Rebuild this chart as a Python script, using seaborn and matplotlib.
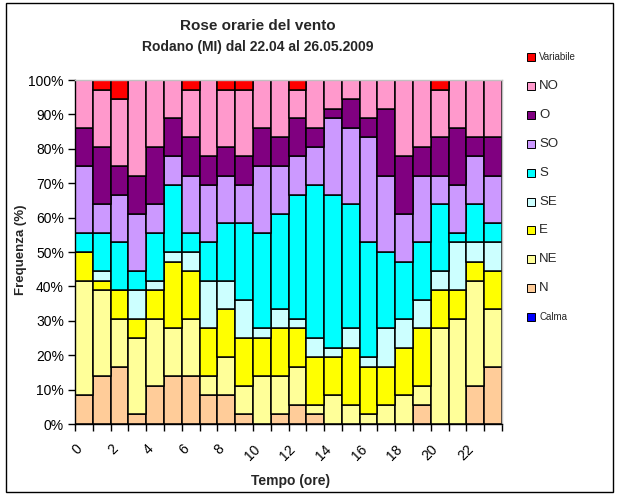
import matplotlib
matplotlib.use("Agg")
import matplotlib.pyplot as plt
from matplotlib.patches import Rectangle
from matplotlib.ticker import PercentFormatter
import pandas as pd
import seaborn as sns

# Osservazioni orarie per direzione del vento (36 giorni di rilievo)
ore = list(range(24))
calma     = [0] * 24
n         = [3, 5, 6, 1, 4, 5, 5, 3, 3, 1, 0, 1, 2, 1, 0, 0, 0, 0, 0, 2, 0, 0, 4, 6]
ne        = [12, 9, 5, 8, 7, 5, 6, 2, 4, 3, 5, 4, 4, 1, 3, 2, 1, 2, 3, 2, 10, 11, 11, 6]
e         = [3, 1, 3, 2, 3, 7, 5, 5, 5, 5, 4, 5, 4, 5, 4, 6, 5, 4, 5, 6, 4, 3, 2, 4]
se        = [0, 1, 0, 3, 1, 1, 2, 5, 3, 4, 1, 2, 1, 2, 1, 2, 1, 4, 3, 3, 2, 5, 2, 3]
s         = [2, 4, 5, 2, 5, 7, 2, 4, 6, 8, 10, 10, 13, 16, 16, 13, 12, 8, 6, 6, 7, 1, 4, 2]
so        = [7, 3, 5, 6, 3, 3, 6, 6, 5, 4, 7, 5, 4, 4, 8, 8, 11, 8, 5, 7, 3, 5, 5, 5]
o         = [4, 6, 3, 4, 6, 4, 4, 3, 3, 3, 4, 3, 4, 2, 1, 3, 2, 7, 6, 3, 4, 6, 2, 4]
no        = [5, 6, 7, 10, 7, 4, 5, 8, 6, 7, 5, 6, 3, 5, 3, 2, 4, 3, 8, 7, 5, 5, 6, 6]
variabile = [0, 1, 2, 0, 0, 0, 1, 0, 1, 1, 0, 0, 1, 0, 0, 0, 0, 0, 0, 0, 1, 0, 0, 0]

direzioni = ["Variabile", "NO", "O", "SO", "S", "SE", "E", "NE", "N", "Calma"]
serie = [variabile, no, o, so, s, se, e, ne, n, calma]
colori = ["#FF0000", "#FF99CC", "#800080", "#CC99FF", "#00FFFF",
          "#CCFFFF", "#FFFF00", "#FFFF99", "#FFCC99", "#0000FF"]

titolo = "Rose orarie del vento"
sottotitolo = "Rodano (MI) dal 22.04 al 26.05.2009"

df = pd.DataFrame(
    [{"ora": h, "direzione": d, "conteggio": v[i]}
     for d, v in zip(direzioni, serie) for i, h in enumerate(ore)]
)

sns.set_theme(style="white")
plt.rcParams["font.family"] = ["Liberation Sans", "DejaVu Sans"]

W, H = 619, 495
fig = plt.figure(figsize=(W / 100, H / 100), dpi=100)
fig.patch.set_facecolor("white")

def fx(px):
    return px / W

def fy(py):
    return 1 - py / H

ax = fig.add_axes([fx(75), fy(424), fx(502) - fx(75), fy(80) - fy(424)])

sns.histplot(
    data=df, x="ora", weights="conteggio", hue="direzione",
    hue_order=direzioni, palette=dict(zip(direzioni, colori)),
    multiple="fill", bins=list(range(25)), shrink=1, alpha=1,
    edgecolor="black", linewidth=1.1, legend=False, ax=ax,
)

ax.set_xlim(0, 24)
ax.set_ylim(0, 1)
ax.set_xlabel("")
ax.set_ylabel("")
ax.set_yticks([i / 10 for i in range(11)])
ax.yaxis.set_major_formatter(PercentFormatter(1.0, decimals=0))
ax.set_xticks(list(range(25)))
ax.set_xticklabels([str(h) if (h % 2 == 0 and h < 24) else "" for h in range(25)],
                   rotation=45, ha="right", rotation_mode="anchor")
ax.tick_params(axis="both", direction="out", length=5, width=1, color="black",
               labelsize=10, labelcolor="black", bottom=True, left=True)
ax.tick_params(axis="x", pad=8)
ax.tick_params(axis="y", pad=3)
for side in ("left", "bottom"):
    ax.spines[side].set_color("black")
    ax.spines[side].set_linewidth(1.0)
for side in ("top", "right"):
    ax.spines[side].set_color("#C0C0C0")
    ax.spines[side].set_linewidth(1.0)
ax.set_facecolor("white")

# Titoli ed etichette degli assi
fig.text(fx(258), fy(26), titolo, ha="center", va="center",
         fontsize=11, fontweight="bold")
fig.text(fx(258), fy(47), sottotitolo, ha="center", va="center",
         fontsize=10, fontweight="bold")
fig.text(fx(21), fy(250), "Frequenza (%)", rotation=90, ha="center", va="center",
         fontsize=9.5, fontweight="bold")
fig.text(fx(291), fy(481), "Tempo (ore)", ha="center", va="center",
         fontsize=10, fontweight="bold")

# Legenda a destra
y0, passo = 57, 28.9
for i, (d, c) in enumerate(zip(direzioni, colori)):
    yc = y0 + passo * i
    fig.add_artist(Rectangle((fx(527), fy(yc + 4)), fx(8), fy(yc - 4) - fy(yc + 4),
                             transform=fig.transFigure, facecolor=c,
                             edgecolor="black", linewidth=0.7))
    piccolo = d in ("Variabile", "Calma")
    fig.text(fx(539), fy(yc), d, ha="left", va="center",
             fontsize=7 if piccolo else 9.5)

# Cornice esterna del grafico
fig.add_artist(Rectangle((fx(6), fy(492)), fx(613) - fx(6), fy(3) - fy(492),
                         transform=fig.transFigure, fill=False,
                         edgecolor="black", linewidth=1.0))

fig.savefig("out.png", dpi=100, facecolor="white")
